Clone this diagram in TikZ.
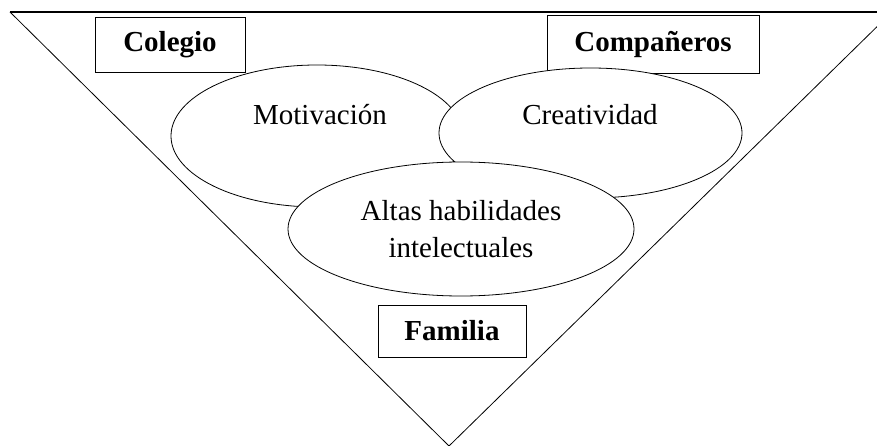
\documentclass[tikz,border=0pt]{standalone}
\usepackage{fontspec}
\setmainfont{Liberation Serif}
\usetikzlibrary{shapes.geometric}
\tikzset{
  ell/.style={draw=black, line width=0.8pt, fill=white, ellipse, inner sep=0pt},
  lbl/.style={font=\fontsize{29}{37}\selectfont, inner sep=0pt, align=center},
  boxlbl/.style={draw=black, line width=0.8pt, fill=white, rectangle, inner sep=0pt,
                 font=\fontsize{29}{30}\selectfont\bfseries},
  edge/.style={draw=black, line width=0.8pt}
}
\begin{document}
\begin{tikzpicture}[x=1pt,y=-1pt]
\useasboundingbox (0,0) rectangle (877,446);
\clip (0,0) rectangle (877,446);
% funnel triangle
\coordinate (tl) at (10,12);
\coordinate (tr) at (892,12);
\coordinate (ap) at (449,446);
\draw[edge] (tl) -- (ap) -- (tr);
\draw[draw=black, line width=1.1pt] (tl) -- (tr);
% boxes
\node[boxlbl, minimum width=150pt, minimum height=55pt] (col) at (170,44.5) {Colegio};
\node[boxlbl, minimum width=212pt, minimum height=58pt] (comp) at (653,44) {Compañeros};
\node[boxlbl, minimum width=148pt, minimum height=52pt] (fam) at (452,331) {Familia};
% ellipses
\node[ell, minimum width=292pt, minimum height=142pt] (mot) at (317,136) {};
\node[lbl] (motT) at (320,115) {Motivación};
\node[ell, minimum width=303pt, minimum height=130pt] (cre) at (590.5,133) {};
\node[lbl] (creT) at (590,115) {Creatividad};
\node[ell, lbl, draw=black, line width=0.8pt, fill=white, ellipse, minimum width=346pt, minimum height=134pt] (ahi) at (461,229) {Altas habilidades\\intelectuales};
\end{tikzpicture}
\end{document}
